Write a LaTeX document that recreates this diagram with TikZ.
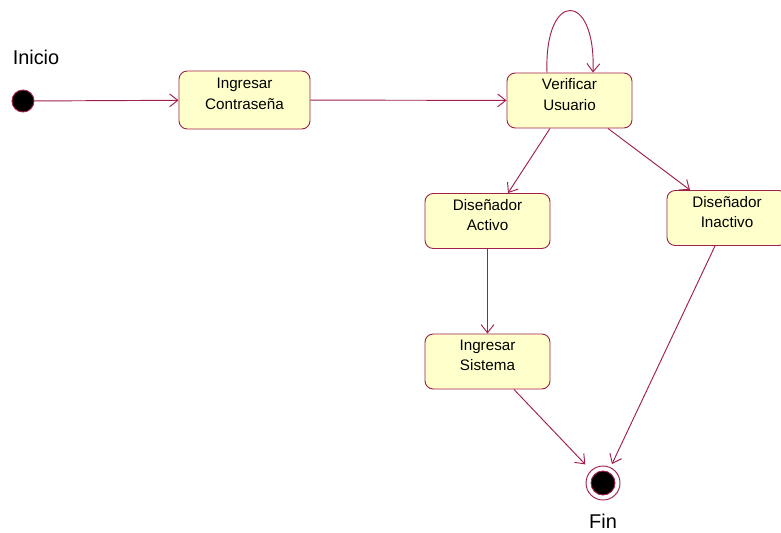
\documentclass[tikz,border=0pt]{standalone}
\usepackage{fontspec}
\setmainfont{Liberation Sans}
\usetikzlibrary{arrows.meta,calc}
\definecolor{borde}{HTML}{A0204A}
\definecolor{relleno}{HTML}{FFFFCC}
\newcommand{\dos}[2]{#1\\#2\\[-7pt]\mbox{}}

\begin{document}
\begin{tikzpicture}[x=0.03cm, y=-0.03cm, line width=0.8pt,
  estado/.style={draw=borde, fill=relleno, rounded corners=7pt, align=center,
    minimum width=3.75cm, minimum height=1.65cm, inner sep=2pt,
    font=\fontsize{13}{17.5}\selectfont},
  flecha/.style={draw=borde, -{Straight Barb[length=7pt,width=11pt,line width=0.8pt]}},
  etiqueta/.style={font=\fontsize{17}{20}\selectfont}]
  \useasboundingbox (0,0) rectangle (781,533);
  % estados
  \node[circle, fill=black, draw=borde, minimum size=0.66cm, inner sep=0pt] (inicio) at (23,101) {};
  \node[etiqueta] (tinicio) at (36,57) {Inicio};
  \node[estado, minimum width=3.93cm, minimum height=1.74cm] (contrasena) at (244.5,100) {\dos{Ingresar}{Contraseña}};
  \node[estado] (verificar) at (569.5,100.5) {\dos{Verificar}{Usuario}};
  \node[estado] (activo) at (487.5,221) {\dos{Diseñador}{Activo}};
  \node[estado, minimum width=3.6cm] (inactivo) at (727,218) {\dos{Diseñador}{Inactivo}};
  \node[estado] (sistema) at (487.5,361.5) {\dos{Ingresar}{Sistema}};
  \node[circle, fill=white, draw=borde, minimum size=1.02cm, inner sep=0pt] (fin) at (603,483) {};
  \node[circle, fill=black, draw=borde, minimum size=0.72cm, inner sep=0pt] (finc) at (fin) {};
  \node[etiqueta] (tfin) at (603,521) {Fin};
  % transiciones
  \draw[flecha] (inicio) -- (contrasena);
  \draw[flecha] (contrasena) -- (verificar);
  \draw[flecha] ($(verificar.north)+(-22.5,0)$) .. controls (544,-10) and (596,-10) .. ($(verificar.north)+(23.5,0)$);
  \draw[flecha] ($(verificar.south)+(-19.5,0)$) -- ($(activo.north)+(20.5,0)$);
  \draw[flecha] ($(verificar.south)+(38.5,0)$) -- ($(inactivo.north)+(-37,0)$);
  \draw[flecha] (activo) -- (sistema);
  \draw[flecha, shorten >=7pt] ($(sistema.south)+(26.5,0)$) -- (fin);
  \draw[flecha, shorten >=3pt] ($(inactivo.south)+(-12,0)$) -- (fin);
\end{tikzpicture}
\end{document}
